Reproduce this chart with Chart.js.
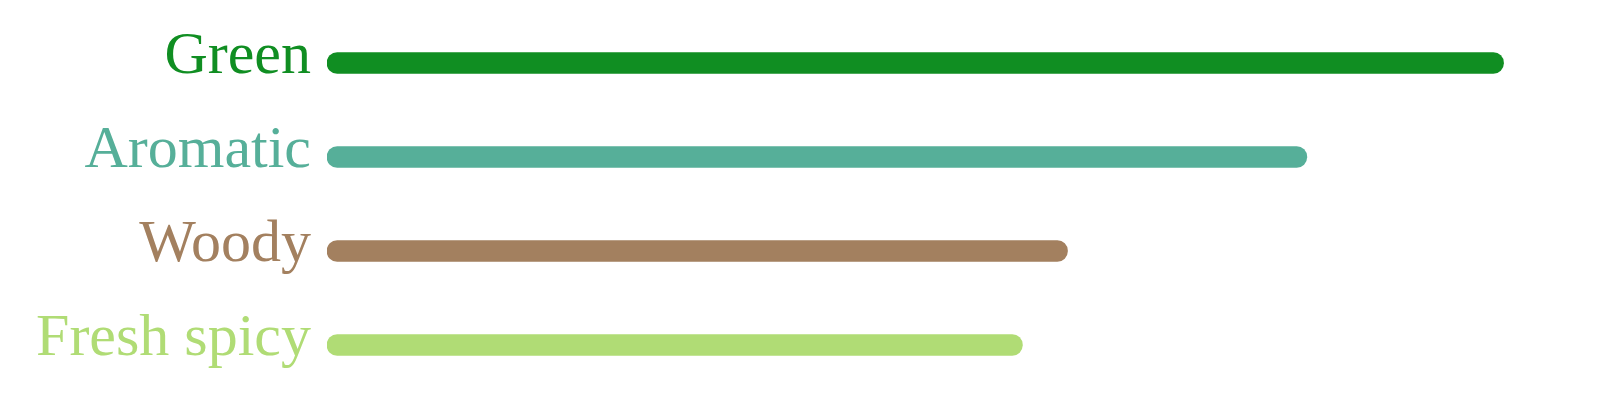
<!DOCTYPE html>
<html>
<head>
<meta charset="utf-8">
<script src="https://cdn.jsdelivr.net/npm/chart.js@4/dist/chart.umd.min.js"></script>
<style>
  html, body { margin: 0; padding: 0; background: #fff; }
  #wrap { width: 1600px; height: 401px; }
</style>
</head>
<body>
<div id="wrap"><canvas id="notesChart"></canvas></div>
<script>
const notes = ['Green', 'Aromatic', 'Woody', 'Fresh spicy'];
const strength = [93.9, 78.2, 59.1, 55.5];
const noteColors = ['#108e22', '#56af99', '#a3805f', '#b0dc75'];

document.addEventListener('DOMContentLoaded', function() {
  const ctx = document.getElementById('notesChart').getContext('2d');
  new Chart(ctx, {
    type: 'bar',
    data: {
      labels: notes,
      datasets: [{
        data: strength,
        backgroundColor: noteColors,
        borderWidth: 0,
        borderSkipped: false,
        borderRadius: 11,
        barThickness: 21
      }]
    },
    options: {
      indexAxis: 'y',
      responsive: true,
      maintainAspectRatio: false,
      animation: false,
      layout: {
        padding: { top: 16, bottom: 9, right: 20, left: 0 }
      },
      plugins: {
        legend: { display: false },
        tooltip: { enabled: false }
      },
      scales: {
        x: {
          display: false,
          min: 0,
          max: 100
        },
        y: {
          grid: { display: false, drawTicks: false },
          border: { display: false },
          ticks: {
            padding: 16,
            labelOffset: -6,
            color: function(c) { return noteColors[c.index]; },
            font: { family: 'Liberation Serif', size: 60 }
          },
          afterFit: function(scale) {
            scale.width = 327;
            scale.paddingTop = 0;
            scale.paddingBottom = 0;
          }
        }
      }
    }
  });
});
</script>
</body>
</html>
